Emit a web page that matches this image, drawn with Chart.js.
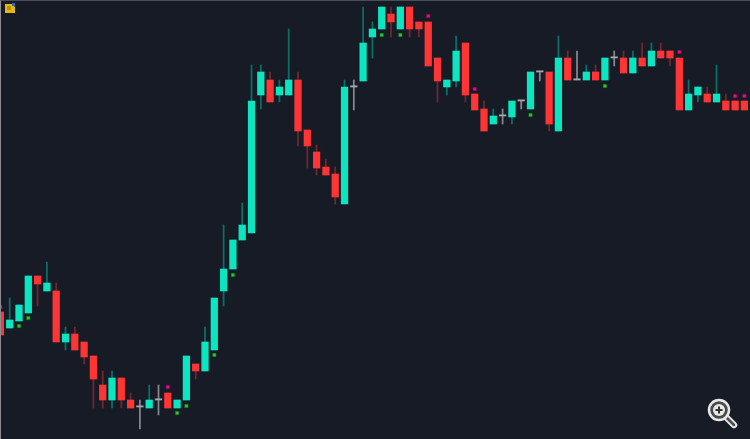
<!DOCTYPE html>
<html>
<head>
<meta charset="utf-8">
<title>Candles</title>
<script src="https://cdn.jsdelivr.net/npm/chart.js@4"></script>
<style>
  html, body { margin: 0; padding: 0; background: #161b26; }
  #wrap { position: relative; width: 750px; height: 439px; overflow: hidden; }
  #frame { position: absolute; inset: 0; border-top: 1px solid #4a4d55; border-left: 1px solid #8a8c92; }
  .icon { position: absolute; }
</style>
</head>
<body>
<div id="wrap">
  <canvas id="myChart" width="750" height="439"></canvas>
  <div id="frame"></div>
  <!-- icone do canto -->
  <svg class="icon" style="left:4px;top:2px" width="12" height="12" viewBox="0 0 12 12">
    <path d="M1 2h7l3 3v6H1z" fill="#e8b70e"/>
    <path d="M8 1h3v3H8z" fill="#1d6fb8"/>
    <path d="M3 5h4M3 7h4" stroke="#8a6a05" stroke-width="1"/>
  </svg>
  <!-- lupa -->
  <svg class="icon" style="left:706px;top:397px" width="32" height="32" viewBox="0 0 32 32">
    <path d="M20 20l8 8" stroke="#e8e8e8" stroke-width="6.5" stroke-linecap="round"/>
    <path d="M20 20l8 8" stroke="#4a4a4a" stroke-width="2.5" stroke-linecap="round"/>
    <circle cx="13" cy="13" r="10" fill="#4a4a4a" stroke="#e8e8e8" stroke-width="2.5"/>
    <circle cx="13" cy="13" r="6" fill="#e8e8e8"/>
    <path d="M13 9.5v7M9.5 13h7" stroke="#333" stroke-width="2"/>
  </svg>
</div>
<script>
// velas
const opens  = [127,111,118,126,163,148,148,97,105,97,83,54,39,61,39,32,31,39,46,31,39,75,68,89,148,170,199,206,344,359,344,344,359,309,287,272,265,235,352,358,402,410,425,410,432,417,417,381,352,358,396,345,330,315,323,322,338,330,367,367,308,381,359,359,367,359,381,381,366,381,373,388,388,381,329,344,345,337,338,338,338];
const highs  = [127,141,134,163,163,177,156,112,112,97,83,68,68,61,46,39,54,54,46,39,83,75,112,141,214,199,236,374,374,367,359,410,367,309,294,280,272,359,359,432,417,432,432,432,432,417,417,381,359,403,396,345,338,330,330,338,338,367,367,367,403,388,388,374,374,381,388,388,388,396,396,396,388,381,359,352,352,374,345,338,338];
const lows   = [104,111,118,126,133,148,97,89,89,75,31,31,31,31,31,10,31,24,31,31,39,60,68,89,133,170,199,206,330,337,337,344,293,271,264,264,235,235,329,358,381,410,402,410,402,402,373,337,344,352,337,329,308,315,315,315,330,330,358,308,308,359,359,359,359,359,373,366,366,373,373,381,373,329,329,337,337,337,329,329,329];
const closes = [104,119,134,163,155,156,97,105,89,82,60,39,61,39,31,32,39,39,31,39,83,68,97,141,170,199,214,338,367,337,352,359,308,293,271,264,242,352,352,396,410,432,417,432,410,410,373,358,359,388,344,329,308,323,323,338,338,367,367,315,381,359,359,367,359,381,381,366,381,373,388,381,381,329,345,352,337,345,329,329,329];

// sinais verdes e rosas (indice da vela, preco)
const buyIndex  = [2,3,19,20,23,25,41,43,57,65];
const buyPrice  = [113,121,26,33,84,164,404,404,324,353];
const sellIndex = [0,18,46,51,73,79,80];
const sellPrice = [132,52,423,350,387,343,343];

const corAlta = '#0be6c0';
const corBaixa = '#ff3434';
const corDoji = '#a4a6ac';

function corCorpo(i) {
    if (opens[i] === closes[i]) return corDoji;
    return closes[i] > opens[i] ? corAlta : corBaixa;
}
function corPavio(i) {
    if (opens[i] === closes[i]) return '#85878e';
    return closes[i] > opens[i] ? '#0b6f66' : '#74262f';
}

const ctx = document.getElementById('myChart');

new Chart(ctx, {
    type: 'bar',
    data: {
        datasets: [
            {
                label: 'Sinal compra',
                type: 'scatter',
                data: buyIndex.map((x, i) => ({ x: x, y: buyPrice[i] })),
                pointStyle: 'rect',
                pointRadius: 2.4,
                backgroundColor: '#2ecb22',
                borderColor: '#176b18',
                borderWidth: 0.5,
                order: 1
            },
            {
                label: 'Sinal venda',
                type: 'scatter',
                data: sellIndex.map((x, i) => ({ x: x, y: sellPrice[i] })),
                pointStyle: 'rect',
                pointRadius: 2.4,
                backgroundColor: '#ee0a86',
                borderColor: '#7a1050',
                borderWidth: 0.5,
                order: 1
            },
            {
                label: 'Corpo',
                data: opens.map((o, i) => ({ x: i, y: [o, closes[i]] })),
                backgroundColor: opens.map((o, i) => corCorpo(i)),
                barThickness: 6.6,
                minBarLength: 1.2,
                grouped: false,
                order: 2
            },
            {
                label: 'Pavio',
                data: highs.map((h, i) => ({ x: i, y: [lows[i], h] })),
                backgroundColor: opens.map((o, i) => corPavio(i)),
                barThickness: 1.1,
                grouped: false,
                order: 3
            }
        ]
    },
    options: {
        responsive: false,
        animation: false,
        devicePixelRatio: 1,
        layout: { padding: 0, autoPadding: false },
        plugins: {
            legend: { display: false },
            tooltip: { enabled: false }
        },
        scales: {
            x: { type: 'linear', display: false, offset: false, min: -0.043, max: 80.6, grid: { display: false } },
            y: { display: false, min: 0, max: 439, grid: { display: false } }
        }
    }
});
</script>
</body>
</html>
